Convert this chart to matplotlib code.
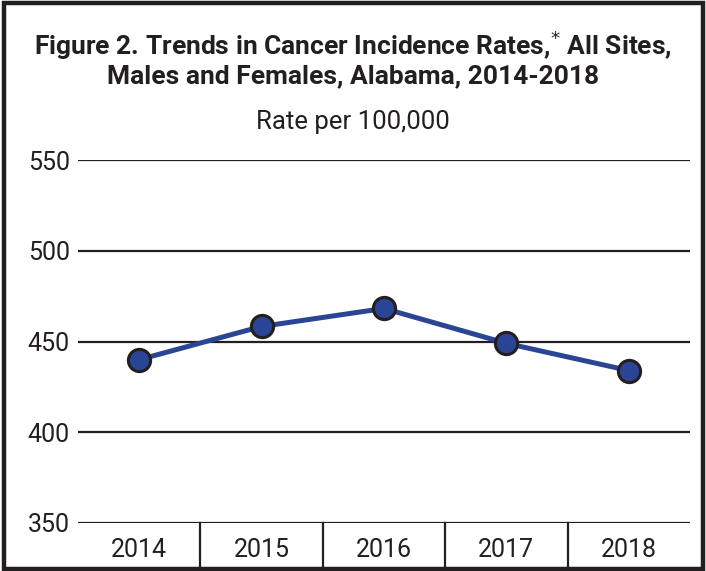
import matplotlib
matplotlib.use("Agg")
import matplotlib.pyplot as plt
from matplotlib.patches import Rectangle
import matplotlib.transforms as mtransforms

years = ["2014", "2015", "2016", "2017", "2018"]
rates = [440.0, 458.3, 468.2, 449.0, 434.0]
yticks = [350, 400, 450, 500, 550]

INK = "#231f20"
BLUE = "#2b4596"

plt.rcParams['font.family'] = ['Roboto', 'DejaVu Sans']

fig = plt.figure(figsize=(7.06, 5.71), dpi=100)
W, H = 706, 571
ax = fig.add_axes([78 / W, (H - 523) / H, (690 - 78) / W, (523 - 160) / H])

x = list(range(len(years)))
ax.plot(x, rates, color=BLUE, lw=3.6, zorder=3, solid_capstyle='round')
ax.plot(x, rates, ls='none', marker='o', ms=16, mfc=BLUE, mec=INK, mew=2.2, zorder=4)

ax.set_xlim(-0.5, 4.5)
ax.set_ylim(350, 550)
ax.set_yticks(yticks)
ax.set_yticklabels([str(v) for v in yticks])
ax.set_xticks(x)
ax.set_xticklabels(years)
ax.tick_params(axis='both', length=0, labelsize=18, colors=INK)
ax.tick_params(axis='y', pad=6)
ax.tick_params(axis='x', pad=11)
for s in ax.spines.values():
    s.set_visible(False)
ax.grid(axis='y', color=INK, lw=1.6)
ax.set_axisbelow(True)

trans = mtransforms.blended_transform_factory(ax.transData, ax.transAxes)
for d in [0.5, 1.5, 2.5, 3.5]:
    ax.plot([d, d], [0, -0.125], color=INK, lw=1.6, transform=trans, clip_on=False)

fig.patches.append(Rectangle((3.5 / W, 2.5 / H), (W - 6.5) / W, (H - 5) / H,
                             transform=fig.transFigure, fill=False, ec=INK, lw=3.2))

fig.text(0.5, (H - 45) / H, "Figure 2. Trends in Cancer Incidence Rates,$^{*}$ All Sites,",
         ha='center', va='center', fontsize=19, fontweight='bold', color=INK)
fig.text(0.5, (H - 76) / H, "Males and Females, Alabama, 2014-2018",
         ha='center', va='center', fontsize=19, fontweight='bold', color=INK)
fig.text(0.5, (H - 122) / H, "Rate per 100,000",
         ha='center', va='center', fontsize=18.5, color=INK)

fig.savefig("out.png", dpi=100)
